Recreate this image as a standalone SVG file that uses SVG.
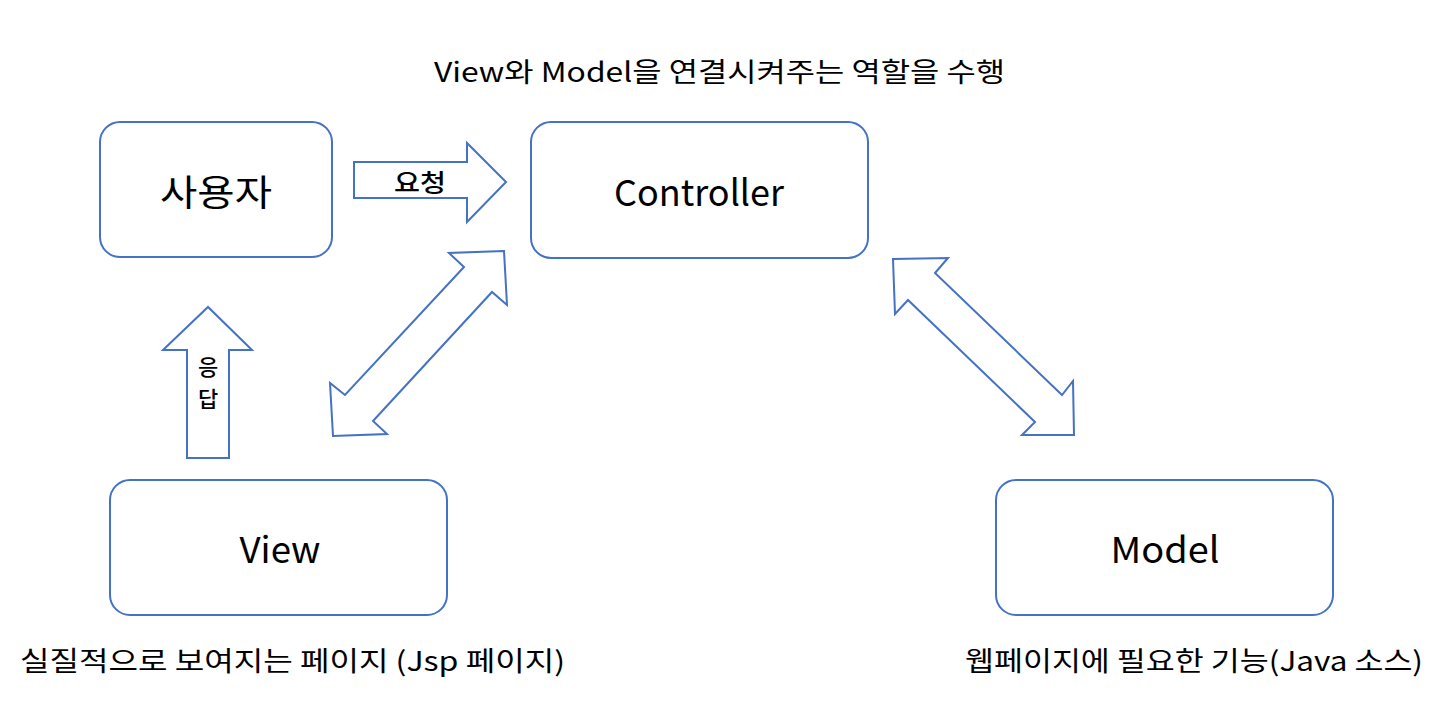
<svg xmlns="http://www.w3.org/2000/svg" width="1450" height="706" viewBox="0 0 1450 706">
<style>
.box{fill:#fff;stroke:#4472c4;stroke-width:2}
.arr{fill:#fff;stroke:#4472c4;stroke-width:2;stroke-linejoin:miter}
text{font-family:"Noto Sans CJK KR","Noto Sans",sans-serif;fill:#000}
.lbl{font-size:36px;text-anchor:middle;dominant-baseline:central}
.cap{font-size:27px;text-anchor:middle}
.small{font-size:25px;font-weight:500;text-anchor:middle;dominant-baseline:central}
.vert{font-size:22px;font-weight:500;text-anchor:middle;dominant-baseline:central}
</style>
<rect width="1450" height="706" fill="#fff"/>
<g id="connectors">
<g id="req"><polygon class="arr" points="354,162 467,162 467,143 506,182 467,222 467,198 354,198"/><text class="small" x="420" y="181" textLength="52" lengthAdjust="spacingAndGlyphs">요청</text></g>
<g id="resp"><polygon class="arr" points="187,458 187,350 163,350 208,307 252,350 229,350 229,458"/><text class="vert" x="208" y="365"><tspan x="208" y="365">응</tspan><tspan x="208" y="397">답</tspan></text></g>
<polygon id="view-ctrl" class="arr" points="504,251 449,253 464,267 345,395 330,383 333,436 387,434 373,421 492,292 507,305"/>
<polygon id="ctrl-model" class="arr" points="893,259 948,258 935,273 1062,395 1073,381 1074,435 1022,435 1035,422 908,300 895,314"/>
</g>
<g id="user"><rect class="box" x="100" y="122" width="232" height="135" rx="20"/><text class="lbl" x="216" y="190" textLength="112" lengthAdjust="spacingAndGlyphs">사용자</text></g>
<g id="controller"><rect class="box" x="531" y="122" width="337" height="136" rx="20"/><text class="lbl" x="699" y="190" textLength="170" lengthAdjust="spacingAndGlyphs">Controller</text></g>
<g id="view"><rect class="box" x="110" y="480" width="337" height="135" rx="20"/><text class="lbl" x="280" y="547" textLength="81" lengthAdjust="spacingAndGlyphs">View</text></g>
<g id="model"><rect class="box" x="996" y="480" width="337" height="135" rx="20"/><text class="lbl" x="1165" y="547" textLength="109" lengthAdjust="spacingAndGlyphs">Model</text></g>
<text class="cap" x="719.5" y="82" textLength="571" lengthAdjust="spacingAndGlyphs">View와 Model을 연결시켜주는 역할을 수행</text>
<text class="cap" x="292.5" y="671" textLength="545" lengthAdjust="spacingAndGlyphs">실질적으로 보여지는 페이지 (Jsp 페이지)</text>
<text class="cap" x="1194" y="671" textLength="458" lengthAdjust="spacingAndGlyphs">웹페이지에 필요한 기능(Java 소스)</text>
</svg>
